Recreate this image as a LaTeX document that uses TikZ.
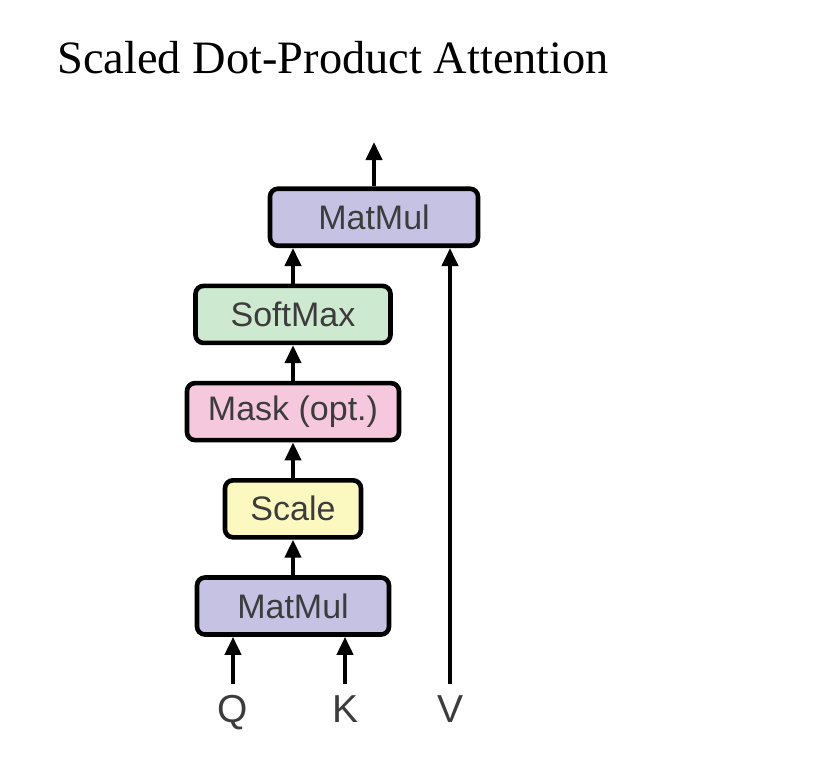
\documentclass[tikz,border=0pt]{standalone}
\usepackage{fontspec}
\setmainfont{Liberation Serif}
\setsansfont{Liberation Sans}
\usepackage{tikz}
\usetikzlibrary{arrows.meta, positioning}
\definecolor{mmblue}{RGB}{198,194,227}
\definecolor{smgreen}{RGB}{205,233,208}
\definecolor{mkpink}{RGB}{245,200,221}
\definecolor{scyellow}{RGB}{251,249,191}
\definecolor{txtgray}{RGB}{60,60,60}
\tikzstyle{block}  = [rectangle, rounded corners=4pt, minimum height=28.5pt, line width=2.3pt, draw=black, text=txtgray, font=\sffamily\fontsize{17}{20}\selectfont, text centered]
\tikzstyle{mmbox}  = [block, fill=mmblue]
\tikzstyle{scbox}  = [block, fill=scyellow]
\tikzstyle{mkbox}  = [block, fill=mkpink]
\tikzstyle{smbox}  = [block, fill=smgreen]
\tikzstyle{arrow}  = [line width=2pt, -{Triangle[length=9pt,width=8pt]}]
\tikzstyle{inlabel} = [font=\sffamily\fontsize{19.5}{22}\selectfont, text=txtgray, text height=14pt, text depth=0pt, inner sep=5pt]

\begin{document}
\begin{tikzpicture}[x=0.5pt, y=-0.5pt, node distance=17.8pt]
    \useasboundingbox (0,0) rectangle (822,778);
    \node (title) [anchor=base west, inner sep=0pt, font=\fontsize{23.2}{27}\selectfont] at (57,73) {Scaled Dot-Product Attention};

    \node (mm1) [mmbox, minimum width=96pt] at (293,606) {MatMul};
    \node (sc)  [scbox, minimum width=68pt, above=of mm1] {Scale};
    \node (mk)  [mkbox, minimum width=106pt, above=of sc] {Mask (opt.)};
    \node (sm)  [smbox, minimum width=97.5pt, above=of mk] {SoftMax};
    \node (mm2) [mmbox, minimum width=104pt, above=of sm, xshift=40.5pt] {MatMul};
    \coordinate (out) at (374,142);

    \node (q) [inlabel] at (233,708) {Q};
    \node (k) [inlabel] at (345,708) {K};
    \node (v) [inlabel] at (450,708) {V};

    \draw [arrow] (q) -- (q |- mm1.south);
    \draw [arrow] (k) -- (k |- mm1.south);
    \draw [arrow] (v) -- (v |- mm2.south);
    \draw [arrow] (mm1) -- (sc);
    \draw [arrow] (sc) -- (mk);
    \draw [arrow] (mk) -- (sm);
    \draw [arrow] (sm) -- (sm |- mm2.south);
    \draw [arrow] (mm2) -- (out);
\end{tikzpicture}
\end{document}
